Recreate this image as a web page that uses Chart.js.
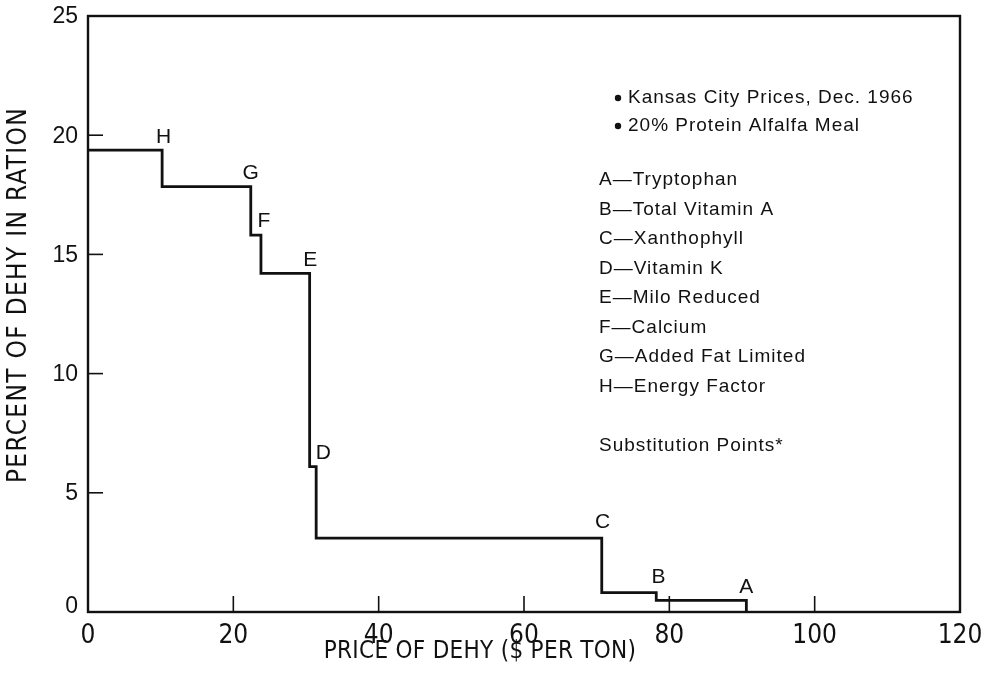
<!DOCTYPE html>
<html>
<head>
<meta charset="utf-8">
<script src="https://cdn.jsdelivr.net/npm/chart.js@4.4.1/dist/chart.umd.min.js"></script>
<style>
  html, body { margin: 0; padding: 0; background: #fff; }
  #wrap { width: 982px; height: 684px; position: relative; }
</style>
</head>
<body>
<div id="wrap"><canvas id="c" width="982" height="684"></canvas></div>
<script>
// ---- data ----
const stepPrice   = [0, 10.2, 22.4, 23.8, 30.5, 31.4, 70.7, 78.2, 90.6];
const stepPercent = [19.37, 17.84, 15.81, 14.2, 6.1, 3.1, 0.81, 0.49, 0];

const pointLetters = ['H', 'G', 'F', 'E', 'D', 'C', 'B', 'A'];
const letterPrice  = [10.4, 22.4, 24.2, 30.6, 32.4, 70.8, 78.5, 90.6];
const letterPct    = [19.92, 18.4, 16.4, 14.75, 6.65, 3.75, 1.45, 1.05];

const xTicks = [0, 20, 40, 60, 80, 100, 120];
const yTicks = [0, 5, 10, 15, 20, 25];

const noteBullets = ['Kansas City Prices, Dec. 1966', '20% Protein Alfalfa Meal'];
const noteKey = ['A\u2014Tryptophan', 'B\u2014Total Vitamin A', 'C\u2014Xanthophyll', 'D\u2014Vitamin K',
                 'E\u2014Milo Reduced', 'F\u2014Calcium', 'G\u2014Added Fat Limited', 'H\u2014Energy Factor'];
const noteFooter = 'Substitution Points*';

const xTitle = 'PRICE OF DEHY ($ PER TON)';
const yTitle = 'PERCENT OF DEHY IN RATION';

const INK = '#111';
const NARROW = "'Liberation Sans Narrow', 'DejaVu Sans Condensed', 'Liberation Sans', sans-serif";
const SANS = "'Liberation Sans', Arial, sans-serif";

const decor = {
  id: 'decor',
  afterDraw(chart) {
    const ctx = chart.ctx, a = chart.chartArea;
    const xs = chart.scales.x, ys = chart.scales.y;
    ctx.save();
    // frame
    ctx.strokeStyle = INK; ctx.lineWidth = 2.4;
    ctx.strokeRect(a.left, a.top, a.right - a.left, a.bottom - a.top);
    // inward ticks
    ctx.lineWidth = 1.6;
    xTicks.forEach(v => {
      if (v === 0 || v === 120) return;
      const px = xs.getPixelForValue(v);
      ctx.beginPath(); ctx.moveTo(px, a.bottom); ctx.lineTo(px, a.bottom - 16); ctx.stroke();
    });
    yTicks.forEach(v => {
      if (v === 0 || v === 25) return;
      const py = ys.getPixelForValue(v);
      ctx.beginPath(); ctx.moveTo(a.left, py); ctx.lineTo(a.left + 15, py); ctx.stroke();
    });
    // tick labels
    ctx.fillStyle = INK;
    ctx.font = "26px " + NARROW;
    ctx.textAlign = 'center'; ctx.textBaseline = 'middle';
    xTicks.forEach(v => ctx.fillText(String(v), xs.getPixelForValue(v), a.bottom + 24));
    ctx.font = "23px " + SANS;
    ctx.textAlign = 'right'; ctx.textBaseline = 'middle';
    yTicks.forEach(v => ctx.fillText(String(v), a.left - 10, ys.getPixelForValue(v) + (v === 0 ? -5 : 1)));
    // axis titles
    ctx.font = "24px " + NARROW;
    ctx.letterSpacing = '0.3px';
    ctx.textAlign = 'center'; ctx.textBaseline = 'middle';
    ctx.fillText(xTitle, 480, 652);
    ctx.save();
    ctx.font = "26px " + NARROW;
    ctx.letterSpacing = '1.3px';
    ctx.translate(19, 295); ctx.rotate(-Math.PI / 2);
    ctx.fillText(yTitle, 0, 0);
    ctx.restore();
    // point letters
    ctx.letterSpacing = '0px';
    ctx.font = "21px " + SANS;
    ctx.textAlign = 'center'; ctx.textBaseline = 'middle';
    pointLetters.forEach((L, i) => ctx.fillText(L, xs.getPixelForValue(letterPrice[i]), ys.getPixelForValue(letterPct[i])));
    // notes
    ctx.font = "19px " + SANS;
    ctx.letterSpacing = '1px';
    ctx.textAlign = 'left'; ctx.textBaseline = 'middle';
    noteBullets.forEach((t, i) => {
      const y = 98 + i * 28;
      ctx.beginPath(); ctx.arc(618, y, 3.2, 0, Math.PI * 2); ctx.fill();
      ctx.fillText(t, 628, y);
    });
    noteKey.forEach((t, i) => ctx.fillText(t, 599, 180 + i * 29.5));
    ctx.fillText(noteFooter, 599, 446);
    ctx.beginPath(); ctx.restore();
  }
};

new Chart(document.getElementById('c'), {
  type: 'line',
  data: {
    datasets: [{
      data: stepPrice.map((x, i) => ({ x, y: stepPercent[i] })),
      stepped: 'before',
      borderColor: INK,
      borderWidth: 2.8,
      pointRadius: 0,
      fill: false
    }]
  },
  options: {
    responsive: false,
    animation: false,
    layout: { padding: { left: 0, right: 22, top: 16, bottom: 0 } },
    plugins: { legend: { display: false }, tooltip: { enabled: false } },
    scales: {
      x: {
        type: 'linear', min: 0, max: 120,
        grid: { display: false }, border: { display: false },
        ticks: { display: false, stepSize: 20 },
        afterFit(s) { s.height = 72; }
      },
      y: {
        type: 'linear', min: 0, max: 25,
        grid: { display: false }, border: { display: false },
        ticks: { display: false, stepSize: 5 },
        afterFit(s) { s.width = 88; }
      }
    }
  },
  plugins: [decor]
});
</script>
</body>
</html>
